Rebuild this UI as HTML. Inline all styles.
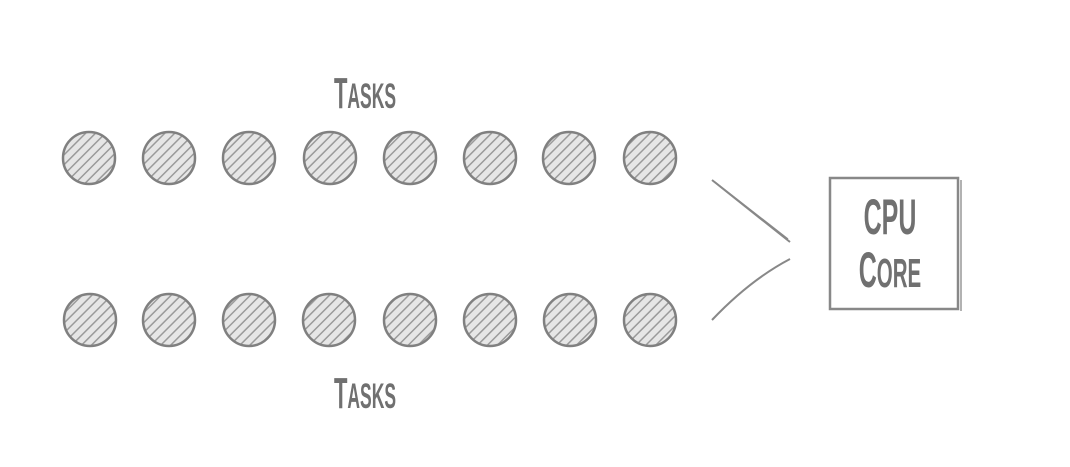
<!DOCTYPE html>
<html><head><meta charset="utf-8"><style>
html,body{margin:0;padding:0;background:#fff;}
svg text{font-family:"Liberation Sans",sans-serif;fill:#707070;font-weight:bold;}
</style></head><body>
<svg width="1070" height="462" viewBox="0 0 1070 462">
<defs>
<pattern id="hatch" width="7" height="7" patternUnits="userSpaceOnUse" patternTransform="rotate(45)">
<rect width="7" height="7" fill="#e6e6e6"/>
<line x1="0" y1="0" x2="0" y2="7" stroke="#9a9a9a" stroke-width="3"/>
</pattern>
</defs>
<g id="tasks"></g>
<text x="365" y="108" font-size="44" text-anchor="middle" transform="translate(365 0) scale(0.5 1) translate(-365 0)">T<tspan font-size="35">ASKS</tspan></text>
<text x="365" y="408" font-size="44" text-anchor="middle" transform="translate(365 0) scale(0.5 1) translate(-365 0)">T<tspan font-size="35">ASKS</tspan></text>
<g stroke="#888" fill="none" stroke-width="2">
<path d="M712 180 L790 242"/>
<path d="M715 182 L788 239" stroke-width="1.2"/>
<path d="M712 320 Q750 280 790 259"/>
</g>
<g>
<rect x="830" y="178" width="128" height="131" fill="none" stroke="#888" stroke-width="2.5"/>
<line x1="961" y1="180" x2="961" y2="311" stroke="#999" stroke-width="1.5"/>
<text x="890" y="234" font-size="50" text-anchor="middle" transform="translate(890 0) scale(0.5 1) translate(-890 0)">CPU</text>
<text x="890" y="287" font-size="50" text-anchor="middle" transform="translate(890 0) scale(0.5 1) translate(-890 0)">C<tspan font-size="41">ORE</tspan></text>
</g>
</svg>
<script>
const topRowX=[89,169,249,330,410,490,569,650];
const bottomRowX=[90,169,249,329,410,490,570,650];
const rowY=[158,320];
const g=document.getElementById('tasks');
const ns='http://www.w3.org/2000/svg';
[topRowX,bottomRowX].forEach((xs,ri)=>{
 xs.forEach((x,i)=>{
  const c=document.createElementNS(ns,'circle');
  c.setAttribute('cx',x);c.setAttribute('cy',rowY[ri]);c.setAttribute('r',26);
  c.setAttribute('fill','url(#hatch)');c.setAttribute('stroke','#808080');c.setAttribute('stroke-width','2.5');
  
  
  g.appendChild(c);
 });
});
</script>
</body></html>
